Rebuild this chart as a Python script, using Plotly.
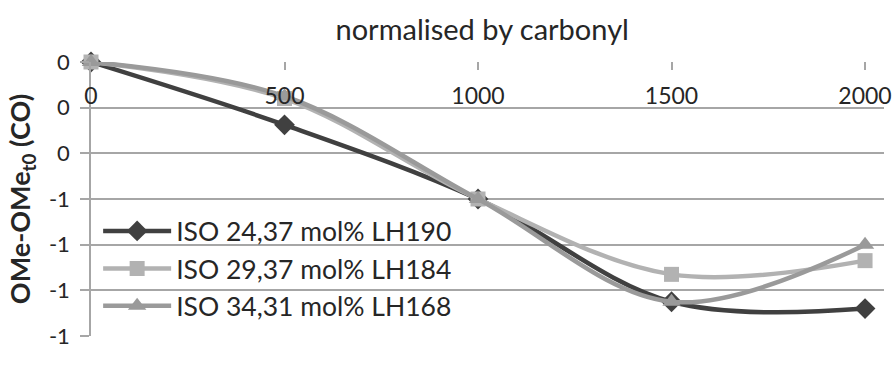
import plotly.graph_objects as go

# exposure time (h)
exposure_h = [0, 500, 1000, 1500, 2000]

# OMe - OMe_t0, normalised by carbonyl
iso_24_37 = [0.0, -0.275, -0.60, -1.05, -1.08]
iso_29_37 = [0.0, -0.16, -0.60, -0.93, -0.87]
iso_34_31 = [0.0, -0.15, -0.60, -1.05, -0.80]

series_names = [
    "ISO 24,37 mol% LH190",
    "ISO 29,37 mol% LH184",
    "ISO 34,31 mol% LH168",
]

y_tickvals = [0, -0.2, -0.4, -0.6, -0.8, -1.0, -1.2]
y_ticktext = ["0", "0", "0", "-1", "-1", "-1", "-1"]
x_tickvals = [0, 500, 1000, 1500, 2000]

FONT = "Lato"
GRID = "#a6a6a6"
TEXT = "#262626"

styles = [
    dict(color="#404040", symbol="diamond", size=16),
    dict(color="#b2b2b2", symbol="square", size=15),
    dict(color="#9a9a9a", symbol="triangle-up", size=16),
]

fig = go.Figure()
for name, vals, st in zip(series_names, [iso_24_37, iso_29_37, iso_34_31], styles):
    fig.add_trace(go.Scatter(
        x=exposure_h, y=vals, name=name, xaxis="x2",
        mode="lines+markers",
        line=dict(color=st["color"], width=4.5, shape="spline", smoothing=1),
        marker=dict(symbol=st["symbol"], size=st["size"], color=st["color"],
                    line=dict(width=0)),
        cliponaxis=False,
    ))

fig.update_layout(
    width=893, height=372,
    margin=dict(l=91, r=9, t=62, b=36, autoexpand=False),
    paper_bgcolor="white", plot_bgcolor="white",
    font=dict(family=FONT, size=22, color=TEXT),
    title=dict(text="normalised by carbonyl", x=0.54, xanchor="center",
               y=0.92, yanchor="middle", font=dict(size=29, color=TEXT)),
    showlegend=True,
    legend=dict(x=0.009, y=0.47, xanchor="left", yanchor="top",
                bgcolor="rgba(0,0,0,0)", font=dict(size=26.5, color=TEXT),
                itemwidth=68, tracegroupgap=0),
    xaxis=dict(range=[0, 2049], showticklabels=False, ticks="",
               showgrid=False, zeroline=False, showline=False,
               automargin=False,
               title=dict(text="<b>exposure (h)</b>", standoff=2,
                          font=dict(size=24, color=TEXT))),
    xaxis2=dict(range=[0, 2049], overlaying="x", side="top", anchor="y",
                tickvals=x_tickvals, ticks="inside", ticklen=8,
                tickcolor=GRID, tickwidth=1.5,
                ticklabelposition="inside", ticklabelstandoff=20,
                ticklabeloverflow="allow", automargin=False,
                tickfont=dict(size=23, color=TEXT),
                showgrid=False, zeroline=False, showline=False),
    yaxis=dict(range=[-1.2, 0], tickvals=y_tickvals, ticktext=y_ticktext,
               ticks="outside", ticklen=9, tickcolor=GRID, tickwidth=1.5,
               showgrid=True, gridcolor=GRID, gridwidth=1.5,
               zeroline=False, showline=True, linecolor=GRID, linewidth=1.5,
               automargin=False, ticklabelstandoff=6,
               tickfont=dict(size=22, color=TEXT),
               title=dict(text="<b>OMe-OMe<sub>t0</sub> (CO)</b>", standoff=10,
                          font=dict(size=27, color=TEXT))),
)

fig.write_html("out.html")
